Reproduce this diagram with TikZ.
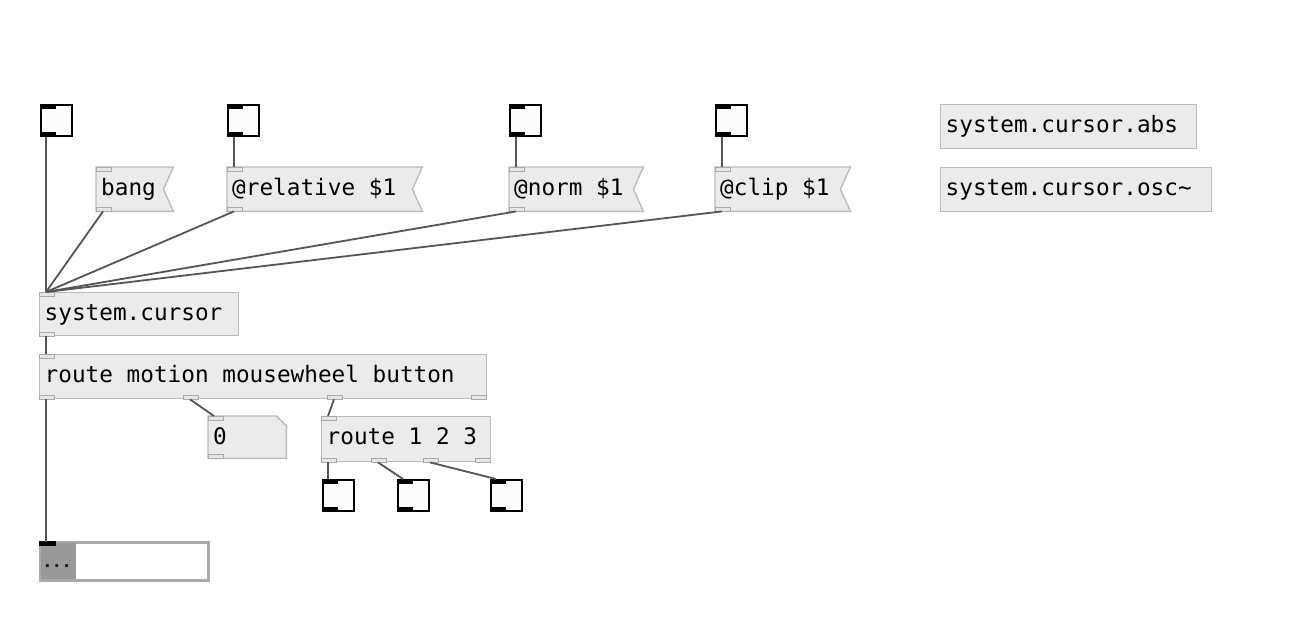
\documentclass[tikz,border=0pt]{standalone}
\usepackage{fontspec}
\newfontfamily\pdfont{DejaVu Sans Mono}
\usetikzlibrary{calc,backgrounds}
\definecolor{boxfill}{HTML}{EBEBEB}
\definecolor{boxline}{HTML}{BBBBBB}
\definecolor{iofill}{HTML}{E6E6E6}
\definecolor{ioline}{HTML}{AAAAAA}
\definecolor{wire}{HTML}{555555}
\definecolor{tglfill}{HTML}{FCFCFC}
\definecolor{listgrey}{HTML}{999999}
\newcommand\pdin[2]{\draw[iolet] ($(#1.north west)+(#2,0)$) rectangle ++(15,4);}
\newcommand\pdout[2]{\draw[iolet] ($(#1.south west)+(#2,0)$) rectangle ++(15,-4);}
\newcommand\tglbars[1]{\fill[black] (#1.north west) rectangle ++(16,5);\fill[black] (#1.south west) rectangle ++(16,-5);}
\newcommand\pdsel{\pdfont\fontsize{22.7}{27}\selectfont}
\newcommand\pdsp{\kern13.67pt\relax}
\begin{document}
\begin{tikzpicture}[x=1pt,y=-1pt,
  pdtext/.style={font=\pdsel},
  objbox/.style={pdtext, draw=boxline, fill=boxfill, line width=1.4pt, anchor=north west,
     inner xsep=5pt, inner ysep=0pt, text height=28pt, align=left},
  msgbox/.style={pdtext, draw=none, fill=none, anchor=north west,
     inner xsep=5pt, inner ysep=0pt, text height=28pt, align=left},
  msgshape/.style={draw=boxline, fill=boxfill, line width=1.4pt, line join=miter},
  tgl/.style={draw=black, fill=tglfill, line width=2pt, minimum size=31pt, inner sep=0pt, anchor=north west},
  iolet/.style={draw=ioline, fill=iofill, line width=1pt},
  conn/.style={draw=wire, line width=1.8pt}]
\useasboundingbox (0,0) rectangle (1307,619);
\begin{scope}[on background layer]
\fill[white] (0,0) rectangle (1307,619);
\end{scope}

% toggles (top row)
\node[tgl] (t1) at (40,104) {};
\node[tgl] (t2) at (227,104) {};
\node[tgl] (t3) at (509,104) {};
\node[tgl] (t4) at (715,104) {};
\tglbars{t1}\tglbars{t2}\tglbars{t3}\tglbars{t4}

% message boxes
\node[msgbox, text width=67pt, text depth=16pt] (mbang) at (96,167) {bang};
\node[msgbox, text width=185pt, text depth=16pt] (mrel) at (227,167) {@relative\pdsp\$1};
\node[msgbox, text width=124pt, text depth=16pt] (mnorm) at (509,167) {@norm\pdsp\$1};
\node[msgbox, text width=125pt, text depth=16pt] (mclip) at (715,167) {@clip\pdsp\$1};
\begin{scope}[on background layer]
\foreach \m in {mbang,mrel,mnorm,mclip}{
  \path[msgshape] (\m.north west) -- (\m.north east) -- ($(\m.north east)!0.5!(\m.south east)+(-10,0)$)
     -- (\m.south east) -- (\m.south west) -- cycle;
}
\end{scope}
\foreach \m in {mbang,mrel,mnorm,mclip}{\pdin{\m}{0}\pdout{\m}{0}}

% abstraction boxes (right)
\node[objbox, text width=246pt, text depth=16pt] (sabs) at (940,104) {system.cursor.abs};
\node[objbox, text width=261pt, text depth=16pt] (sosc) at (940,167) {system.cursor.osc\char`\~};

% system.cursor
\node[objbox, text width=189pt, text depth=15pt] (sc) at (39,292) {system.cursor};
\pdin{sc}{0}\pdout{sc}{0}

% route motion mousewheel button
\node[objbox, text width=437pt, text depth=16pt] (rt) at (39,354) {route\pdsp motion\pdsp mousewheel\pdsp button};
\pdin{rt}{0}\pdout{rt}{0}\pdout{rt}{144}\pdout{rt}{288}\pdout{rt}{432}

% number box
\node[msgbox, text width=68pt, text depth=14pt] (num) at (208,416) {0};
\begin{scope}[on background layer]
\path[msgshape] (num.north west) -- ($(num.north east)+(-10,0)$) -- ($(num.north east)+(0,10)$)
   -- (num.south east) -- (num.south west) -- cycle;
\end{scope}
\pdin{num}{0}\pdout{num}{0}

% route 1 2 3
\node[objbox, text width=159pt, text depth=17pt] (r3) at (321,416) {route\pdsp 1\pdsp 2\pdsp 3};
\pdin{r3}{0}\pdout{r3}{0}\pdout{r3}{50}\pdout{r3}{102}\pdout{r3}{154}

% toggles (bottom)
\node[tgl] (ta) at (322,479) {};
\node[tgl] (tb) at (397,479) {};
\node[tgl] (tc) at (490,479) {};
\tglbars{ta}\tglbars{tb}\tglbars{tc}

% list box
\node[draw=ioline, fill=white, line width=2pt, minimum width=167pt, minimum height=37pt, inner sep=0pt, anchor=north west] (lst) at (40,542) {};
\fill[listgrey] (lst.north west) rectangle ++(36,37);
\draw[ioline, line width=2pt] (lst.north west) rectangle (lst.south east);
\fill[black] ($(lst.north west)+(-1,-1)$) rectangle ++(17,5);
\node[font=\pdfont\bfseries\fontsize{16}{18}\selectfont, inner sep=0pt] (dots) at ($(lst.north west)+(17,24)$) {...};

% connections
\coordinate (scin) at ($(sc.north west)+(7,0)$);
\draw[conn] ($(t1.south west)+(6,0)$) -- (scin);
\draw[conn] ($(t2.south west)+(7,0)$) -- ($(mrel.north west)+(7,0)$);
\draw[conn] ($(t3.south west)+(7,0)$) -- ($(mnorm.north west)+(7,0)$);
\draw[conn] ($(t4.south west)+(7,0)$) -- ($(mclip.north west)+(7,0)$);
\draw[conn] ($(mbang.south west)+(7,0)$) -- (scin);
\draw[conn] ($(mrel.south west)+(7,0)$) -- (scin);
\draw[conn] ($(mnorm.south west)+(7,0)$) -- (scin);
\draw[conn] ($(mclip.south west)+(7,0)$) -- (scin);
\draw[conn] ($(sc.south west)+(7,0)$) -- ($(rt.north west)+(7,0)$);
\draw[conn] ($(rt.south west)+(7,0)$) -- ($(lst.north west)+(6,0)$);
\draw[conn] ($(rt.south west)+(151,0)$) -- ($(num.north west)+(6,0)$);
\draw[conn] ($(rt.south west)+(295,0)$) -- ($(r3.north west)+(7,0)$);
\draw[conn] ($(r3.south west)+(7,0)$) -- ($(ta.north west)+(6,0)$);
\draw[conn] ($(r3.south west)+(57,0)$) -- ($(tb.north west)+(6,0)$);
\draw[conn] ($(r3.south west)+(109,0)$) -- ($(tc.north west)+(6,0)$);
\end{tikzpicture}
\end{document}
